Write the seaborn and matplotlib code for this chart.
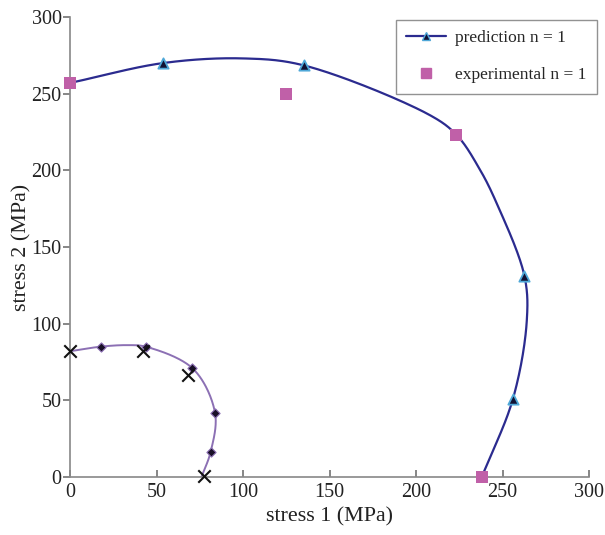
import numpy as np
import pandas as pd
import matplotlib
matplotlib.use("Agg")
import matplotlib.pyplot as plt
import seaborn as sns

# Data
pred_s1 = [0, 54, 100, 135, 208, 223.5, 237, 246.6, 262.6, 264, 256, 238]
pred_s2 = [257, 270, 273, 268.5, 236, 223, 200.3, 178.5, 131.3, 102, 51, 0]
pred_marked = [False, True, False, True, False, False, False, False, True, False, True, False]

exp_s1 = [0, 125, 223, 238]
exp_s2 = [257, 250, 223, 0]

small_s1 = [0, 17.7, 33, 43.7, 70.7, 83.8, 81.3, 76]
small_s2 = [82, 85, 86, 85, 71, 42, 16.5, 0]
small_marked = [False, True, False, True, True, True, True, False]

cross_s1 = [0, 42, 68, 77.5]
cross_s2 = [82, 82, 66.5, 0.5]


def smooth(xs, ys, n=40, alpha=0.5):
    # centripetal Catmull-Rom spline through the read points
    p = np.column_stack([xs, ys]).astype(float)
    p = np.vstack([2 * p[0] - p[1], p, 2 * p[-1] - p[-2]])
    out = []
    for i in range(1, len(p) - 2):
        p0, p1, p2, p3 = p[i - 1], p[i], p[i + 1], p[i + 2]
        t0 = 0.0
        t1 = t0 + np.linalg.norm(p1 - p0) ** alpha
        t2 = t1 + np.linalg.norm(p2 - p1) ** alpha
        t3 = t2 + np.linalg.norm(p3 - p2) ** alpha
        t = np.linspace(t1, t2, n, endpoint=False)[:, None]
        a1 = (t1 - t) / (t1 - t0) * p0 + (t - t0) / (t1 - t0) * p1
        a2 = (t2 - t) / (t2 - t1) * p1 + (t - t1) / (t2 - t1) * p2
        a3 = (t3 - t) / (t3 - t2) * p2 + (t - t2) / (t3 - t2) * p3
        b1 = (t2 - t) / (t2 - t0) * a1 + (t - t0) / (t2 - t0) * a2
        b2 = (t3 - t) / (t3 - t1) * a2 + (t - t1) / (t3 - t1) * a3
        out.append((t2 - t) / (t2 - t1) * b1 + (t - t1) / (t2 - t1) * b2)
    out.append(p[-2][None, :])
    out = np.vstack(out)
    return pd.DataFrame({"s1": out[:, 0], "s2": out[:, 1]})


sns.set_theme(style="white")
plt.rcParams["font.family"] = ["Liberation Serif", "DejaVu Serif"]
plt.rcParams["xtick.bottom"] = True
plt.rcParams["ytick.left"] = True

fig = plt.figure(figsize=(6.05, 5.35), dpi=100)
ax = fig.add_axes([0.1157, 0.1084, 0.858, 0.8598])

blue = "#2b2b8f"
purple = "#8c70b4"

sns.lineplot(data=smooth(pred_s1, pred_s2), x="s1", y="s2", sort=False,
             color=blue, lw=1.6, ax=ax, zorder=2)
sns.lineplot(data=smooth(small_s1, small_s2), x="s1", y="s2", sort=False,
             color=purple, lw=1.4, ax=ax, zorder=2)

pm = pd.DataFrame({"s1": pred_s1, "s2": pred_s2})[pred_marked]
sns.scatterplot(data=pm, x="s1", y="s2", marker="^", s=55, color="#111133",
                edgecolor="#4fa8d8", linewidth=1.3, ax=ax, zorder=3)

sm = pd.DataFrame({"s1": small_s1, "s2": small_s2})[small_marked]
sns.scatterplot(data=sm, x="s1", y="s2", marker="D", s=22, color="#1a1028",
                edgecolor=purple, linewidth=0.8, ax=ax, zorder=3)

ex = pd.DataFrame({"s1": exp_s1, "s2": exp_s2})
sns.scatterplot(data=ex, x="s1", y="s2", marker="s", s=75, color="#c060a8",
                edgecolor="#c060a8", linewidth=0, ax=ax, zorder=4, clip_on=False)

cr = pd.DataFrame({"s1": cross_s1, "s2": cross_s2})
sns.scatterplot(data=cr, x="s1", y="s2", marker="x", s=80, color="#111111",
                linewidth=1.5, ax=ax, zorder=4, clip_on=False)

ax.set_xlim(0, 300)
ax.set_ylim(0, 300)
ax.set_xticks(range(0, 301, 50))
ax.set_yticks(range(0, 301, 50))
ax.set_xlabel("stress 1 (MPa)", fontsize=15.8, color="#222222", labelpad=4)
ax.set_ylabel("stress 2 (MPa)", fontsize=15.8, color="#222222", labelpad=0)
ax.tick_params(axis="x", direction="in", length=5, color="#777777",
               labelsize=14.5, labelcolor="#222222", pad=4)
ax.tick_params(axis="y", direction="out", length=5, color="#777777",
               labelsize=14.5, labelcolor="#222222", pad=1)
for side in ["top", "right"]:
    ax.spines[side].set_visible(False)
for side in ["left", "bottom"]:
    ax.spines[side].set_color("#888888")
    ax.spines[side].set_linewidth(1.2)

h1 = plt.Line2D([], [], color=blue, lw=1.6, marker="^", markersize=6,
                markerfacecolor="#111133", markeredgecolor="#4fa8d8")
h2 = plt.Line2D([], [], color="none", marker="s", markersize=7,
                markerfacecolor="#c060a8", markeredgecolor="#c060a8")
leg = ax.legend([h1, h2], ["prediction n = 1", "experimental n = 1"],
                loc="upper right", bbox_to_anchor=(1.015, 0.994),
                borderaxespad=0, fontsize=12.5,
                frameon=True, fancybox=False, labelspacing=1.2,
                handlelength=2.3, borderpad=0.6, handletextpad=0.5)
leg.get_frame().set_edgecolor("#777777")
leg.get_frame().set_linewidth(1.0)

fig.savefig("out.png", dpi=100)
